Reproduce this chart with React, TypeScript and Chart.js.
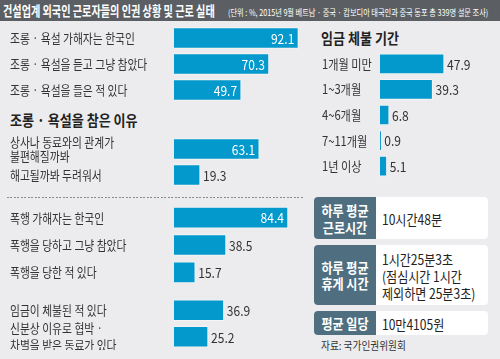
import React, { useEffect, useRef } from "react";
import { Chart, registerables } from "chart.js";

Chart.register(...registerables);

// ---------- data ----------
const abuseLabels = ["조롱 · 욕설 가해자는 한국인", "조롱 · 욕설을 듣고 그냥 참았다", "조롱 · 욕설을 들은 적 있다"];
const abuseValues = [92.1, 70.3, 49.7];

const reasonLabels = [["상사나 동료와의 관계가", "불편해질까봐"], "해고될까봐 두려워서"];
const reasonValues = [63.1, 19.3];

const violenceLabels = ["폭행 가해자는 한국인", "폭행을 당하고 그냥 참았다", "폭행을 당한 적 있다"];
const violenceValues = [84.4, 38.5, 15.7];

const otherLabels = ["임금이 체불된 적 있다", ["신분상 이유로 협박 ·", "차별을 받은 동료가 있다"]];
const otherValues = [36.9, 25.2];

const delayLabels = ["1개월 미만", "1~3개월", "4~6개월", "7~11개월", "1년 이상"];
const delayValues = [47.9, 39.3, 6.8, 0.9, 5.1];

const titleText = "건설업계 외국인 근로자들의 인권 상황 및 근로 실태";
const subtitleText = "(단위 : %, 2015년 9월 베트남 · 중국 · 캄보디아 태국인과 중국 동포 총 339명 설문 조사)";
const reasonHeading = "조롱 · 욕설을 참은 이유";
const delayHeading = "임금 체불 기간";
const boxKeys = [["하루 평균", "근로시간"], ["하루 평균", "휴게 시간"], ["평균 일당"]];
const boxValues = [["10시간48분"], ["1시간25분3초", "(점심시간 1시간", "제외하면 25분3초)"], ["10만4105원"]];
const sourceText = "자료: 국가인권위원회";

// ---------- style ----------
const FONT = "'Noto Sans CJK KR', 'Noto Sans', sans-serif";
const BAR = "#0399cc";
const BOX_DARK = "#4f6f80";
const BG = "#ececee";
const TEXT = "#333333";
const SX = 0.86;

const sideLabelPlugin = {
  id: "sideLabels",
  afterDatasetsDraw(chart: any, _args: any, opts: any) {
    const ctx = chart.ctx;
    const yScale = chart.scales.y;
    const labels = chart.data.labels as any[];
    const meta = chart.getDatasetMeta(0);
    const data = chart.data.datasets[0].data as number[];
    ctx.save();
    ctx.textBaseline = "middle";
    // category labels
    ctx.font = `${opts.labelSize}px ${FONT}`;
    ctx.fillStyle = TEXT;
    ctx.textAlign = "left";
    labels.forEach((lab, i) => {
      const lines = Array.isArray(lab) ? lab : [lab];
      const y = yScale.getPixelForValue(i);
      lines.forEach((ln: string, k: number) => {
        const yy = y + (k - (lines.length - 1) / 2) * opts.lineHeight;
        ctx.save();
        ctx.translate(yScale.left, yy);
        ctx.scale(opts.labelSx, 1);
        ctx.fillText(ln, 0, 0);
        ctx.restore();
      });
    });
    // values
    ctx.font = `${opts.valueSize}px ${FONT}`;
    meta.data.forEach((bar: any, i: number) => {
      const v = data[i];
      const inside = v >= opts.insideMin;
      ctx.save();
      if (inside) {
        ctx.fillStyle = "#ffffff";
        ctx.textAlign = "right";
        ctx.translate(bar.x - 4, bar.y + 0.5);
      } else {
        ctx.fillStyle = TEXT;
        ctx.textAlign = "left";
        ctx.translate(bar.x + 3, bar.y + 0.5);
      }
      ctx.scale(SX, 1);
      ctx.fillText(v.toFixed(1), 0, 0);
      ctx.restore();
    });
    ctx.restore();
  },
};

type BlockProps = {
  labels: any[];
  values: number[];
  left: number;
  top: number;
  width: number;
  height: number;
  axisWidth: number;
  max: number;
  insideMin: number;
  lineHeight: number;
  thickness: number;
  labelSize: number;
  labelSx: number;
};

function BarBlock(p: BlockProps) {
  const ref = useRef<HTMLCanvasElement | null>(null);
  useEffect(() => {
    if (!ref.current) return;
    const chart = new Chart(ref.current, {
      type: "bar",
      data: {
        labels: p.labels,
        datasets: [
          {
            data: p.values,
            backgroundColor: BAR,
            borderColor: "rgba(255,255,255,0.45)",
            borderWidth: 1,
            barThickness: p.thickness,
          },
        ],
      },
      options: {
        indexAxis: "y",
        responsive: false,
        maintainAspectRatio: false,
        animation: false,
        devicePixelRatio: 1,
        layout: { padding: { left: 10, right: 0, top: 0, bottom: 0 } },
        scales: {
          x: { display: false, min: 0, max: p.max },
          y: {
            display: true,
            grid: { display: false },
            border: { display: false },
            ticks: { display: false },
            afterFit: (s: any) => {
              s.width = p.axisWidth;
              s.paddingTop = 0;
              s.paddingBottom = 0;
            },
          },
        },
        plugins: {
          legend: { display: false },
          tooltip: { enabled: false },
          sideLabels: {
            insideMin: p.insideMin,
            lineHeight: p.lineHeight,
            labelSize: p.labelSize,
            labelSx: p.labelSx,
            valueSize: 14,
          },
        } as any,
      },
      plugins: [sideLabelPlugin],
    } as any);
    return () => chart.destroy();
  }, []);
  return (
    <canvas
      ref={ref}
      width={p.width}
      height={p.height}
      style={{ position: "absolute", left: p.left, top: p.top, width: p.width, height: p.height }}
    />
  );
}

function Txt(props: {
  text: string;
  x: number;
  y: number;
  size: number;
  bold?: boolean;
  color?: string;
  sx?: number;
  center?: boolean;
}) {
  const sx = props.sx ?? SX;
  return (
    <div
      style={{
        position: "absolute",
        left: props.x,
        top: props.y,
        fontSize: props.size,
        lineHeight: 1,
        fontWeight: props.bold ? 700 : 400,
        color: props.color ?? TEXT,
        whiteSpace: "nowrap",
        transformOrigin: props.center ? "center center" : "left center",
        transform: props.center ? `translate(-50%, -50%) scaleX(${sx})` : `translateY(-50%) scaleX(${sx})`,
      }}
    >
      {props.text}
    </div>
  );
}

function InfoBox(props: { top: number; height: number; keys: string[]; vals: string[]; keyStep: number; valStep: number }) {
  const cy = props.top + props.height / 2;
  return (
    <>
      <div
        style={{
          position: "absolute",
          left: 314,
          top: props.top,
          width: 174,
          height: props.height,
          background: "#ffffff",
          borderRadius: 4,
          overflow: "hidden",
        }}
      >
        <div style={{ position: "absolute", left: 0, top: 0, width: 62, height: "100%", background: BOX_DARK }} />
      </div>
      {props.keys.map((k, i) => (
        <Txt
          key={"k" + i}
          text={k}
          x={345}
          y={cy + (i - (props.keys.length - 1) / 2) * props.keyStep}
          size={14}
          bold
          color="#ffffff"
          center
        />
      ))}
      {props.vals.map((v, i) => (
        <Txt
          key={"v" + i}
          text={v}
          x={382}
          y={cy + 0.5 + (i - (props.vals.length - 1) / 2) * props.valStep}
          size={14}
          color="#222222"
        />
      ))}
    </>
  );
}

export default function App() {
  return (
    <div
      style={{
        position: "fixed",
        left: 0,
        top: 0,
        width: 500,
        height: 359,
        background: BG,
        overflow: "hidden",
        fontFamily: FONT,
      }}
    >
      <div style={{ position: "absolute", left: 0, top: 0, width: 500, height: 21, background: "#5b5f63" }} />
      <Txt text={titleText} x={3} y={10.5} size={13.5} bold color="#ffffff" sx={0.75} />
      <Txt text={subtitleText} x={228} y={11.5} size={9} color="#ffffff" sx={0.8} />

      <BarBlock labels={abuseLabels} values={abuseValues} left={0} top={25} width={309} height={78}
        axisWidth={164} max={100} insideMin={45} lineHeight={14} thickness={21} labelSize={13} labelSx={0.83} />

      <Txt text={reasonHeading} x={10} y={119} size={15} bold color="#222222" sx={0.87} />

      <BarBlock labels={reasonLabels} values={reasonValues} left={0} top={136} width={309} height={52}
        axisWidth={164} max={100} insideMin={45} lineHeight={14} thickness={21} labelSize={13} labelSx={0.83} />

      <div
        style={{
          position: "absolute",
          left: 7,
          top: 197,
          width: 296,
          height: 1,
          background: "repeating-linear-gradient(to right, #8a8a8a 0px, #8a8a8a 2px, transparent 2px, transparent 3.5px)",
        }}
      />

      <BarBlock labels={violenceLabels} values={violenceValues} left={0} top={204} width={309} height={82}
        axisWidth={164} max={100} insideMin={45} lineHeight={14} thickness={21} labelSize={13} labelSx={0.83} />

      <BarBlock labels={otherLabels} values={otherValues} left={0} top={297} width={309} height={53}
        axisWidth={164} max={100} insideMin={45} lineHeight={17.5} thickness={21} labelSize={13} labelSx={0.83} />

      <Txt text={delayHeading} x={321} y={37} size={15} bold color="#222222" sx={0.87} />

      <BarBlock labels={delayLabels} values={delayValues} left={312} top={51} width={175} height={128}
        axisWidth={58} max={80} insideMin={1000} lineHeight={14} thickness={20} labelSize={13} labelSx={0.86} />

      <InfoBox top={197} height={42} keys={boxKeys[0]} vals={boxValues[0]} keyStep={17} valStep={17} />
      <InfoBox top={245} height={60} keys={boxKeys[1]} vals={boxValues[1]} keyStep={16.5} valStep={17} />
      <InfoBox top={311} height={24} keys={boxKeys[2]} vals={boxValues[2]} keyStep={17} valStep={17} />

      <Txt text={sourceText} x={321} y={346} size={11.5} sx={0.84} />
    </div>
  );
}
